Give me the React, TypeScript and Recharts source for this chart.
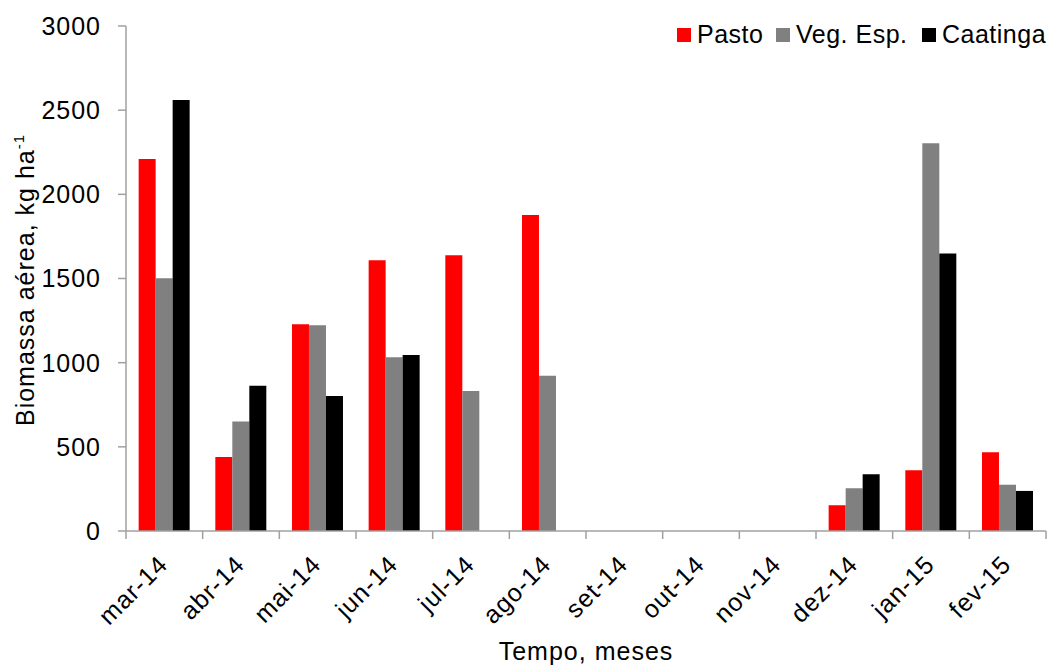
import React from 'react';
import { BarChart, Bar, XAxis, YAxis, Label } from 'recharts';

const months = ['mar-14', 'abr-14', 'mai-14', 'jun-14', 'jul-14', 'ago-14', 'set-14', 'out-14', 'nov-14', 'dez-14', 'jan-15', 'fev-15'];
const pasto = [2210, 440, 1228, 1608, 1638, 1877, 0, 0, 0, 153, 361, 468];
const vegEsp = [1501, 650, 1222, 1032, 832, 923, 0, 0, 0, 254, 2304, 275];
const caatinga = [2561, 863, 802, 1045, 0, 0, 0, 0, 0, 337, 1648, 238];
const yTicks = [0, 500, 1000, 1500, 2000, 2500, 3000];

const series = [
  { key: 'pasto', name: 'Pasto', color: '#ff0000' },
  { key: 'vegEsp', name: 'Veg. Esp.', color: '#808080' },
  { key: 'caatinga', name: 'Caatinga', color: '#000000' },
];

// left edge of each legend square
const legendLeft = [677, 776, 922];

const data = months.map((m, i) => ({
  month: m,
  pasto: pasto[i],
  vegEsp: vegEsp[i],
  caatinga: caatinga[i],
}));

const FONT = '"Liberation Sans", Arial, sans-serif';
const AXIS = '#a0a0a0';
const SPACING = 1;

const MonthTick = (props: any) => {
  const { x, y, payload, index, width } = props;
  const band = (width || 920) / months.length;
  const left = x - band / 2;
  const tx = x + 5;
  const ty = y + 27;
  return (
    <g>
      <line x1={left} y1={y - 8} x2={left} y2={y} stroke={AXIS} strokeWidth={1.5} />
      {index === months.length - 1 && (
        <line x1={x + band / 2} y1={y - 8} x2={x + band / 2} y2={y} stroke={AXIS} strokeWidth={1.5} />
      )}
      <text
        x={tx}
        y={ty}
        textAnchor="end"
        transform={`rotate(-45, ${tx}, ${ty})`}
        fontSize={25}
        fontFamily={FONT}
        letterSpacing={SPACING}
        fill="#000"
      >
        {payload.value}
      </text>
    </g>
  );
};

const YLabel = () => (
  <text
    x={34}
    y={280}
    textAnchor="middle"
    transform="rotate(-90, 34, 280)"
    fontSize={25}
    fontFamily={FONT}
    letterSpacing={SPACING}
    fill="#000"
  >
    Biomassa aérea, kg ha
    <tspan fontSize={15} dy={-10}>-1</tspan>
  </text>
);

export default function App() {
  return (
    <div style={{ position: 'absolute', left: 0, top: 0, width: 1051, height: 665, background: '#fff' }}>
      <BarChart
        width={1051}
        height={665}
        data={data}
        margin={{ top: 26, right: 5, left: 0, bottom: 0 }}
        barGap={0}
        barCategoryGap="16.5%"
      >
        <XAxis
          dataKey="month"
          height={134}
          stroke={AXIS}
          strokeWidth={1.5}
          tickLine={false}
          tickSize={8}
          tickMargin={0}
          interval={0}
          tick={<MonthTick />}
        >
          <Label
            value="Tempo, meses"
            position="insideBottom"
            offset={5}
            style={{ fontSize: 25, fontFamily: FONT, fill: '#000', letterSpacing: SPACING }}
          />
        </XAxis>
        <YAxis
          width={126}
          domain={[0, 3000]}
          ticks={yTicks}
          interval={0}
          stroke={AXIS}
          strokeWidth={1.5}
          tickSize={8}
          tickMargin={17}
          tick={{ fontSize: 25, fontFamily: FONT, fill: '#000', letterSpacing: SPACING }}
          label={<YLabel />}
        />
        {series.map((s) => (
          <Bar key={s.key} dataKey={s.key} name={s.name} fill={s.color} isAnimationActive={false} />
        ))}
      </BarChart>
      {series.map((s, i) => (
        <div
          key={s.key}
          style={{
            position: 'absolute',
            left: legendLeft[i],
            top: 22,
            height: 25,
            display: 'flex',
            alignItems: 'center',
            fontFamily: FONT,
            fontSize: 25,
            letterSpacing: 0.5,
            whiteSpace: 'nowrap',
          }}
        >
          <span style={{ width: 14, height: 14, background: s.color, display: 'inline-block', marginRight: 6 }} />
          <span style={{ lineHeight: '25px' }}>{s.name}</span>
        </div>
      ))}
    </div>
  );
}
